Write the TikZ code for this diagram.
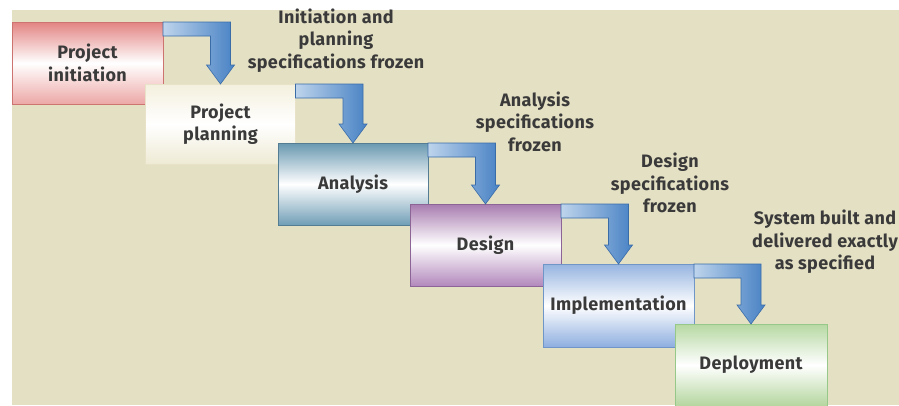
\documentclass[tikz,border=0pt]{standalone}
\usepackage{fontspec}
\setmainfont{Fira Sans}[LetterSpace=2]
\usetikzlibrary{calc}

\definecolor{bg}{RGB}{228,224,196}
\definecolor{ink}{RGB}{58,58,58}
\definecolor{arrowlight}{RGB}{190,212,236}
\definecolor{arrowblue}{RGB}{72,130,196}
\definecolor{arrowedge}{RGB}{58,108,168}
\definecolor{inittop}{RGB}{226,132,130}
\definecolor{initbot}{RGB}{236,168,166}
\definecolor{initedge}{RGB}{205,115,112}
\definecolor{plantop}{RGB}{244,240,222}
\definecolor{planbot}{RGB}{238,234,212}
\definecolor{planedge}{RGB}{232,226,200}
\definecolor{anatop}{RGB}{104,152,176}
\definecolor{anabot}{RGB}{112,158,182}
\definecolor{anaedge}{RGB}{84,124,146}
\definecolor{destop}{RGB}{168,124,176}
\definecolor{desbot}{RGB}{178,136,188}
\definecolor{desedge}{RGB}{140,100,150}
\definecolor{imptop}{RGB}{150,180,224}
\definecolor{impbot}{RGB}{142,174,224}
\definecolor{impedge}{RGB}{112,150,200}
\definecolor{deptop}{RGB}{182,216,162}
\definecolor{depbot}{RGB}{180,214,158}
\definecolor{depedge}{RGB}{150,200,138}

\tikzset{
  stage/.style={draw, line width=0.9pt, inner sep=0pt, outer sep=0pt,
    align=center, text=ink, middle color=white,
    font=\bfseries\fontsize{18}{22.5}\selectfont},
  note/.style={align=center, text=ink, inner sep=0pt,
    font=\bfseries\fontsize{18}{22.5}\selectfont},
  flow/.style={draw=arrowedge, line width=0.6pt, line join=miter,
    left color=arrowlight, right color=arrowblue},
}

% bent arrow from the top right corner of one stage to the top of the next
\newcommand\stagearrow[2]{%
  \path[flow] let \p1=(#1.north east), \p2=(#2.north) in
    (\x1,\y1) -- (\x2+10pt,\y1) -- (\x2+10pt,\y2+19pt)
    -- (\x2+14pt,\y2+19pt) -- (\x2,\y2) -- (\x2-14pt,\y2+19pt)
    -- (\x2-10pt,\y2+19pt) -- (\x2-10pt,\y1-14pt) -- (\x1,\y1-14pt) -- cycle;}

\begin{document}
\begin{tikzpicture}[x=1pt,y=-1pt]
\useasboundingbox (0,0) rectangle (899,405);
\fill[bg] (12,10) rectangle (899,405);

\begin{scope}
\clip (0,0) rectangle (899,405);
\node[stage, draw=initedge, top color=inittop, bottom color=initbot, middle color=white,
  minimum width=151pt, minimum height=82pt] (init) at (87.5,63) {Project\\initiation};
\node[stage, draw=planedge, top color=plantop, bottom color=planbot, middle color=white,
  minimum width=150pt, minimum height=80pt] (plan) at (220.5,124) {Project\\planning};
\node[stage, draw=anaedge, top color=anatop, bottom color=anabot, middle color=white,
  minimum width=150pt, minimum height=82pt] (ana) at (353,184) {Analysis};
\node[stage, draw=desedge, top color=destop, bottom color=desbot, middle color=white,
  minimum width=151pt, minimum height=82pt] (des) at (485.5,245) {Design};
\node[stage, draw=impedge, top color=imptop, bottom color=impbot, middle color=white,
  minimum width=151pt, minimum height=83pt] (imp) at (618.5,305.5) {Implementation};
\node[stage, draw=depedge, top color=deptop, bottom color=depbot, middle color=white,
  minimum width=152pt, minimum height=82pt] (dep) at (751,365) {Deployment};

\stagearrow{init}{plan}
\stagearrow{plan}{ana}
\stagearrow{ana}{des}
\stagearrow{des}{imp}
\stagearrow{imp}{dep}
\end{scope}

\node[note] (n1) at (336,40.5) {Initiation and\\planning\\specifications frozen};
\node[note] (n2) at (535,121.5) {Analysis\\specifications\\frozen};
\node[note] (n3) at (670,183) {Design\\specifications\\frozen};
\node[note] (n4) at (825,242) {System built and\\delivered exactly\\as specified};
\end{tikzpicture}
\end{document}
